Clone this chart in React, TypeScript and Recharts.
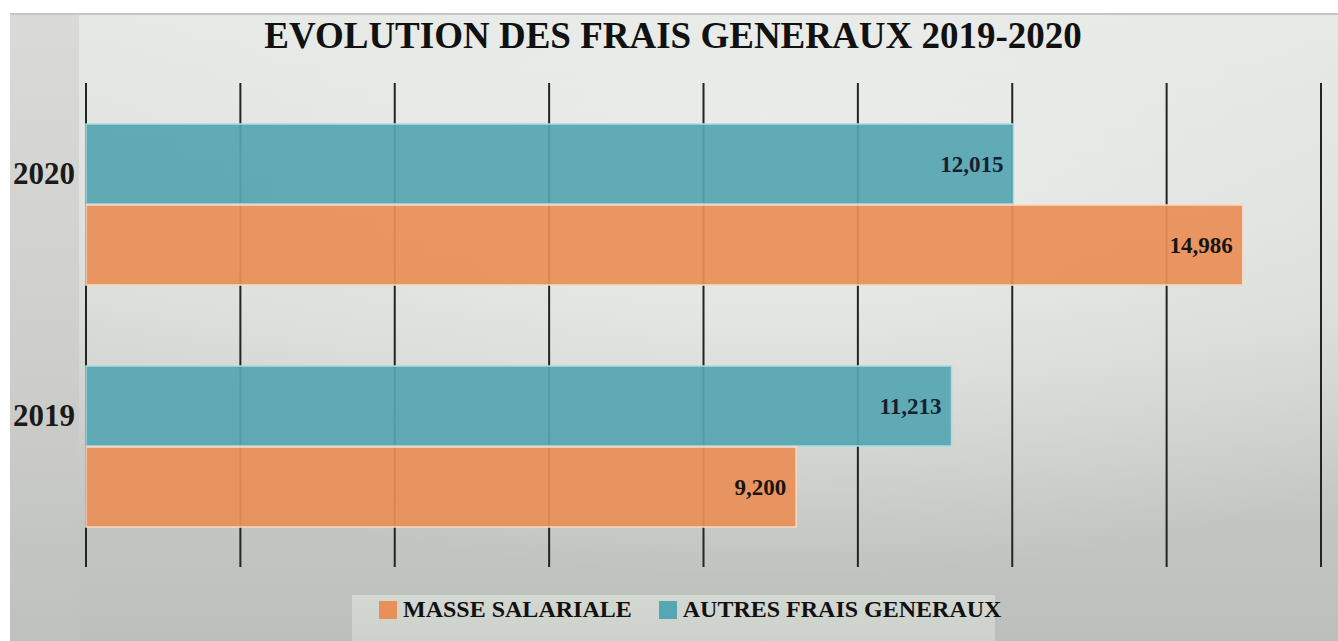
import React from "react";
import {
  BarChart,
  Bar,
  XAxis,
  YAxis,
  CartesianGrid,
  Legend,
  LabelList,
} from "recharts";

const years = ["2020", "2019"];
const autresFrais = [12015, 11213];
const masseSalariale = [14986, 9200];
const xTicks = [0, 2000, 4000, 6000, 8000, 10000, 12000, 14000, 16000];

const legendItems = [
  { label: "MASSE SALARIALE", color: "#e98f58" },
  { label: "AUTRES FRAIS GENERAUX", color: "#56a6b3" },
];

const data = years.map((year, i) => ({
  year,
  autres: autresFrais[i],
  masse: masseSalariale[i],
}));

const serif = '"Liberation Serif", "Times New Roman", serif';

const fmt = (v: any) => Number(v).toLocaleString("en-US");

const YearTick = (props: any) => {
  const { x, y, payload } = props;
  return (
    <text
      x={x - 1}
      y={y - 20}
      textAnchor="end"
      fontFamily={serif}
      fontWeight="bold"
      fontSize={31}
      fill="#1a1a1a"
    >
      {payload.value}
    </text>
  );
};

const renderLegend = () => (
  <div
    style={{
      width: 643,
      height: 46,
      background: "linear-gradient(180deg, #d4d8d3 0%, #cdd1cc 100%)",
      display: "flex",
      alignItems: "flex-start",
      fontFamily: serif,
      fontWeight: "bold",
      fontSize: 24,
      color: "#111",
      boxSizing: "border-box",
      paddingTop: 1,
    }}
  >
    {legendItems.map((item, i) => (
      <div
        key={item.label}
        style={{
          display: "flex",
          alignItems: "center",
          marginLeft: i === 0 ? 27 : 27,
          whiteSpace: "nowrap",
        }}
      >
        <span
          style={{
            display: "inline-block",
            width: 18,
            height: 18,
            background: item.color,
            marginRight: 6,
          }}
        />
        <span>{item.label}</span>
      </div>
    ))}
  </div>
);

const App = () => {
  return (
    <div
      style={{
        position: "absolute",
        left: 0,
        top: 0,
        width: 1338,
        height: 641,
        background: "#ffffff",
        overflow: "hidden",
      }}
    >
      <div
        style={{
          position: "absolute",
          left: 10,
          top: 13,
          right: 0,
          bottom: 0,
          borderTop: "2px solid #c4c6c4",
          background: "linear-gradient(180deg, #dadbd8 0%, #cfd0cd 50%, #bfc1be 100%)",
        }}
      />
      <div
        style={{
          position: "absolute",
          left: 79,
          top: 15,
          right: 0,
          bottom: 0,
          background:
            "radial-gradient(ellipse 70% 60% at 55% 30%, rgba(240,242,239,0.7) 0%, rgba(240,242,239,0) 100%), linear-gradient(180deg, #e6e8e5 0%, #d8dbd7 45%, #c3c6c3 80%, #bcbfbc 100%)",
        }}
      />
      <div style={{ position: "absolute", left: 0, top: 0 }}>
        <BarChart
          width={1338}
          height={641}
          data={data}
          layout="vertical"
          margin={{ top: 83, right: 17, bottom: 28, left: 10 }}
          barGap={1}
          barSize={80}
        >
          <CartesianGrid
            horizontal={false}
            vertical={true}
            stroke="#242424"
            strokeWidth={2}
          />
          <XAxis type="number" domain={[0, 16000]} ticks={xTicks} hide />
          <YAxis
            type="category"
            dataKey="year"
            width={76}
            axisLine={false}
            tickLine={false}
            tickSize={0}
            tickMargin={10}
            tick={<YearTick />}
          />
          <Legend
            verticalAlign="bottom"
            content={renderLegend}
            wrapperStyle={{ position: "absolute", left: 352, top: 595, width: 643, height: 46 }}
          />
          <Bar
            dataKey="autres"
            name="AUTRES FRAIS GENERAUX"
            fill="#56a6b3"
            fillOpacity={0.93}
            stroke="#a9dbe2"
            strokeWidth={1.5}
            isAnimationActive={false}
          >
            <LabelList
              dataKey="autres"
              position="insideRight"
              offset={10}
              formatter={fmt}
              fill="#16202e"
              fontFamily={serif}
              fontWeight="bold"
              fontSize={23}
            />
          </Bar>
          <Bar
            dataKey="masse"
            name="MASSE SALARIALE"
            fill="#e98f58"
            fillOpacity={0.93}
            stroke="#f7d9c2"
            strokeWidth={1.5}
            isAnimationActive={false}
          >
            <LabelList
              dataKey="masse"
              position="insideRight"
              offset={10}
              formatter={fmt}
              fill="#1a1410"
              fontFamily={serif}
              fontWeight="bold"
              fontSize={23}
            />
          </Bar>
        </BarChart>
      </div>
      <svg
        width={1338}
        height={70}
        style={{ position: "absolute", left: 0, top: 0, pointerEvents: "none" }}
      >
        <text
          x={673}
          y={48}
          textAnchor="middle"
          fontFamily={serif}
          fontWeight="bold"
          fontSize={37}
          fill="#111"
        >
          EVOLUTION DES FRAIS GENERAUX 2019-2020
        </text>
      </svg>
    </div>
  );
};

export default App;
